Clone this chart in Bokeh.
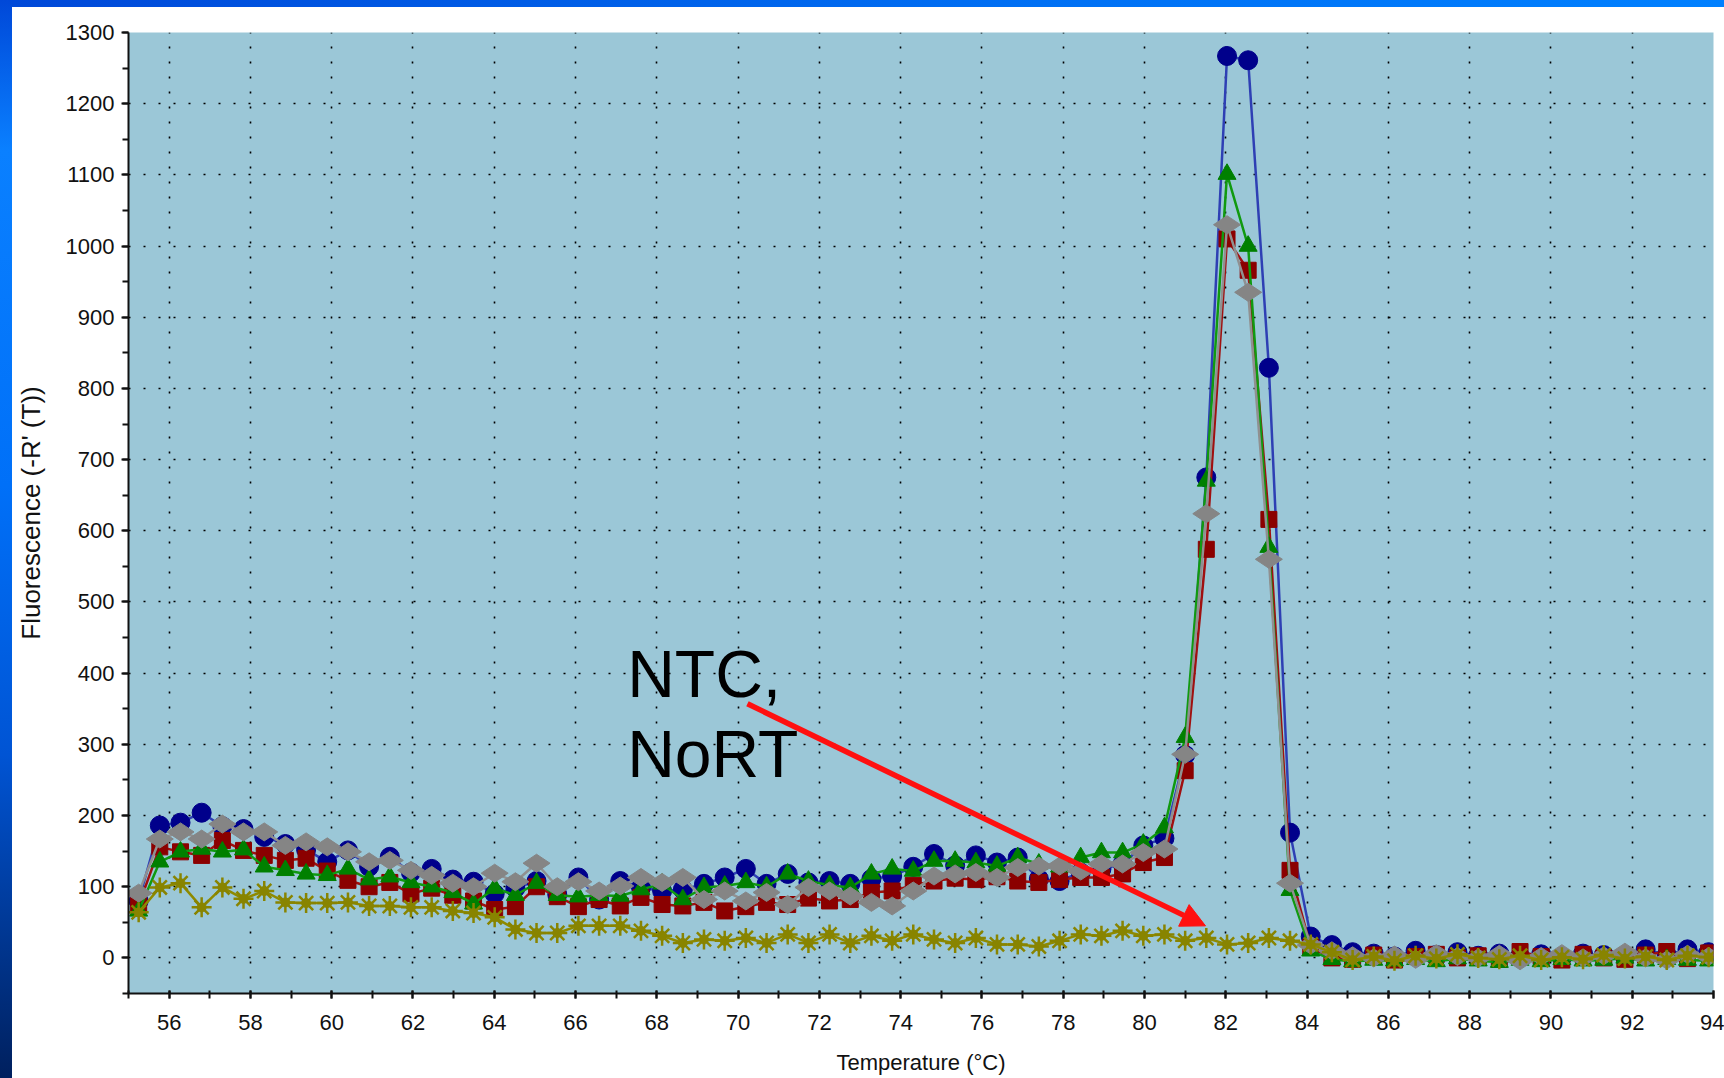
from math import pi

from bokeh.embed import file_html
from bokeh.layouts import column, row
from bokeh.models import Arrow, Div, Label, NormalHead, Range1d, SingleIntervalTicker
from bokeh.plotting import figure
from bokeh.resources import INLINE

# Melt-curve readings: temperature (°C) and -R'(T) for four samples plus the NTC/NoRT control
temperature = [
    55.25, 55.77, 56.28, 56.80, 57.31, 57.83, 58.34, 58.86, 59.37, 59.89,
    60.40, 60.92, 61.43, 61.95, 62.46, 62.98, 63.49, 64.01, 64.52, 65.04,
    65.55, 66.07, 66.58, 67.10, 67.61, 68.13, 68.64, 69.16, 69.67, 70.19,
    70.70, 71.22, 71.73, 72.25, 72.76, 73.28, 73.79, 74.31, 74.82, 75.34,
    75.85, 76.37, 76.88, 77.40, 77.91, 78.43, 78.94, 79.46, 79.97, 80.49,
    81.00, 81.52, 82.03, 82.55, 83.06, 83.58, 84.09, 84.61, 85.12, 85.64,
    86.15, 86.67, 87.18, 87.70, 88.21, 88.73, 89.24, 89.76, 90.27, 90.79,
    91.30, 91.82, 92.33, 92.85, 93.36, 93.88,
]

sample_blue = [
    80, 186, 190, 204, 185, 181, 170, 160, 152, 135,
    151, 128, 142, 120, 125, 110, 107, 90, 98, 108,
    89, 113, 82, 108, 99, 94, 96, 104, 113, 125,
    104, 118, 106, 108, 104, 111, 115, 128, 146, 130,
    144, 134, 141, 111, 108, 120, 125, 132, 158, 168,
    285, 675, 1267, 1261, 829, 176, 30, 18, 8, 6,
    2, 10, 4, 8, 3, 6, 2, 5, 1, 6,
    4, 2, 12, 4, 12, 8,
]

sample_red = [
    74, 156, 149, 144, 165, 151, 144, 137, 140, 122,
    109, 100, 106, 90, 98, 88, 80, 68, 72, 100,
    86, 72, 82, 73, 85, 75, 73, 78, 66, 72,
    78, 75, 84, 80, 82, 92, 94, 102, 108, 112,
    110, 114, 108, 106, 110, 113, 113, 118, 134, 141,
    263, 574, 1010, 966, 616, 123, 15, 0, -2, 4,
    -3, 2, 5, 0, 3, -2, 9, 2, -3, 5,
    0, -2, 4, 9, -1, 7,
]

sample_green = [
    66, 135, 149, 153, 149, 152, 128, 123, 118, 116,
    125, 110, 114, 106, 100, 92, 76, 98, 88, 105,
    88, 86, 88, 87, 96, 104, 82, 99, 101, 106,
    100, 118, 108, 102, 99, 118, 125, 122, 136, 136,
    134, 129, 141, 132, 128, 141, 148, 148, 160, 183,
    310, 670, 1101, 1000, 577, 95, 10, -2, -5, -3,
    -4, -2, -5, -1, -4, -6, -3, -5, -2, -4,
    -3, 0, -4, -2, -3, -4,
]

sample_gray = [
    91, 167, 177, 167, 188, 177, 177, 158, 163, 156,
    149, 135, 137, 123, 116, 105, 100, 119, 107, 133,
    100, 107, 94, 101, 113, 106, 113, 82, 94, 80,
    92, 75, 99, 94, 87, 78, 73, 94, 115, 118,
    120, 113, 127, 129, 129, 122, 132, 132, 148, 153,
    286, 624, 1030, 935, 560, 105, 18, 10, 3, 0,
    4, -2, 6, 2, 0, 5, -4, 2, 6, 0,
    3, 8, 0, -3, 5, 2,
]

ntc_nort = [
    64, 99, 105, 71, 99, 83, 94, 78, 77, 77,
    78, 73, 73, 71, 71, 66, 63, 57, 40, 35,
    35, 45, 45, 45, 38, 31, 21, 26, 24, 28,
    21, 33, 21, 33, 21, 31, 24, 33, 26, 21,
    28, 19, 19, 16, 24, 33, 31, 38, 31, 33,
    24, 28, 19, 21, 28, 24, 19, 8, -3, 2,
    -4, 3, -1, 5, 0, -2, 3, -3, 1, -2,
    4, -1, 2, -3, 3, 1,
]

FONT = "Liberation Sans"

p = figure(
    width=1712, height=1071,
    x_range=Range1d(55, 94), y_range=Range1d(-50, 1300),
    output_backend="svg", toolbar_location=None, tools="",
    min_border_left=116, min_border_right=11,
    min_border_top=25, min_border_bottom=85,
    background_fill_color="#9BC7D7", border_fill_color="white",
    outline_line_color=None, margin=0,
)

# axes
p.xaxis.ticker = SingleIntervalTicker(interval=2, num_minor_ticks=2)
p.yaxis.ticker = SingleIntervalTicker(interval=100, num_minor_ticks=2)
for ax in (p.xaxis, p.yaxis):
    ax.axis_line_color = "#111111"
    ax.axis_line_width = 2
    ax.major_tick_line_color = "#111111"
    ax.major_tick_line_width = 2
    ax.minor_tick_line_color = "#111111"
    ax.minor_tick_line_width = 2
    ax.major_label_text_font = FONT
    ax.major_label_text_font_size = "22px"
    ax.major_label_text_color = "#111111"
    ax.axis_label_text_font = FONT
    ax.axis_label_text_font_style = "normal"
    ax.axis_label_text_color = "#111111"

p.xaxis.major_tick_in = 3
p.xaxis.major_tick_out = 5
p.xaxis.minor_tick_in = 3
p.xaxis.minor_tick_out = 5
p.xaxis.major_label_standoff = 16
p.xaxis.axis_label = "Temperature (°C)"
p.xaxis.axis_label_text_font_size = "22px"
p.xaxis.axis_label_standoff = 17

p.yaxis.major_tick_in = 0
p.yaxis.major_tick_out = 7
p.yaxis.minor_tick_in = 0
p.yaxis.minor_tick_out = 6
p.yaxis.major_label_standoff = 7
p.yaxis.axis_label = "Fluorescence (-R' (T))"
p.yaxis.axis_label_text_font_size = "26px"
p.yaxis.axis_label_standoff = 17

# dotted grid
for g in (p.xgrid, p.ygrid):
    g.grid_line_color = "#000000"
    g.grid_line_width = 1.6
    g.grid_line_dash = "2 13"

# curves
p.line(temperature, sample_blue, line_color="#2E3FB4", line_width=2.5)
p.scatter(temperature, sample_blue, marker="circle", size=19,
          fill_color="#00008B", line_color="#00008B")

p.line(temperature, sample_red, line_color="#A01010", line_width=2.5)
p.scatter(temperature, sample_red, marker="square", size=16,
          fill_color="#8B0000", line_color="#8B0000")

p.line(temperature, sample_green, line_color="#109A10", line_width=2.5)
p.scatter(temperature, sample_green, marker="triangle", size=18,
          fill_color="#008000", line_color="#008000")

p.line(temperature, sample_gray, line_color="#909090", line_width=2.5)
p.scatter(temperature, sample_gray, marker="diamond", size=27, angle=pi / 2,
          fill_color="#858585", line_color="#858585")

p.line(temperature, ntc_nort, line_color="#8E8A00", line_width=2.5)
p.scatter(temperature, ntc_nort, marker="asterisk", size=20,
          line_color="#888400", line_width=2.5)
p.scatter(temperature, ntc_nort, marker="circle", size=9,
          fill_color="#888400", line_color="#888400")

# annotation pointing at the control trace
for txt, yb in (("NTC,", 399), ("NoRT", 286)):
    p.add_layout(Label(
        x=67.27, y=yb, text=txt, text_align="left", text_baseline="alphabetic",
        text_font=FONT, text_font_size="66px", text_color="#000000",
    ))

p.add_layout(Arrow(
    x_start=70.23, y_start=357, x_end=81.5, y_end=45,
    line_color="#FF1010", line_width=5.5,
    end=NormalHead(size=24, fill_color="#FF1010", line_color="#FF1010"),
))

# blue window frame along the left and top edges
left_strip = Div(
    text="", width=12, height=1078, margin=0,
    styles={"background": "linear-gradient(to bottom, #0048D8 0%, #0A80FF 14%, "
                          "#0070F8 45%, #0054D4 70%, #00205E 100%)"},
)
top_strip = Div(
    text="", width=1712, height=7, margin=0,
    styles={"background": "linear-gradient(to right, #0048D8 0%, #0070F4 60%, #0080FF 100%)"},
)

layout = row(left_strip, column(top_strip, p, spacing=0), spacing=0, margin=0)

open("out.html", "w").write(file_html(layout, INLINE))
